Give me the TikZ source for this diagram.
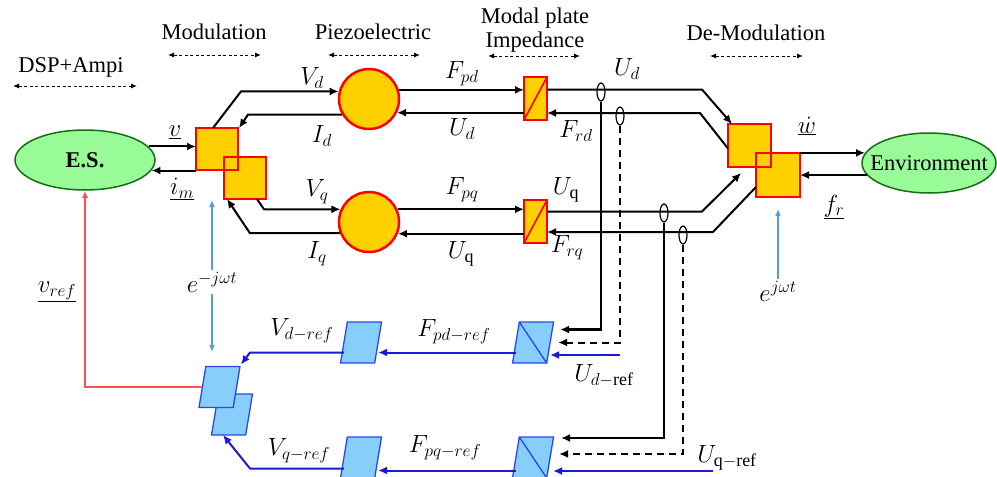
\documentclass[tikz,border=0pt]{standalone}
\usepackage{fontspec}
\setmainfont{Liberation Serif}
\renewcommand\defaultscriptratio{.78}
\renewcommand\defaultscriptscriptratio{.6}
\usetikzlibrary{arrows.meta,shapes.geometric,calc}
\definecolor{gold}{RGB}{255,208,0}
\definecolor{pgreen}{RGB}{152,251,152}
\definecolor{dgreen}{RGB}{20,110,20}
\definecolor{lblue}{RGB}{135,206,250}
\definecolor{dblue}{RGB}{25,25,215}
\definecolor{bord}{RGB}{40,70,245}
\definecolor{sblue}{RGB}{91,155,213}
\definecolor{lred}{RGB}{255,80,80}
\begin{document}
\begin{tikzpicture}[x=1pt,y=-1pt,
  font=\fontsize{22.5}{26}\selectfont,
  lbl/.style={inner sep=2pt},
  mlbl/.style={inner sep=2pt,font=\fontsize{23}{27}\selectfont},
  arr/.style={line width=2pt,-{Latex[length=9pt,width=8pt]}},
  tap/.style={line width=2.4pt,-{Latex[length=9pt,width=8pt]}},
  tapd/.style={line width=2pt,dash pattern=on 7pt off 5pt,-{Latex[length=9pt,width=8pt]}},
  barr/.style={draw=dblue,line width=2pt,-{Latex[length=9pt,width=8pt]}},
  sarr/.style={draw=sblue,line width=1.2pt,-{Latex[length=7pt,width=6pt]}},
  redarr/.style={draw=lred,line width=1.3pt,-{Latex[length=7pt,width=6pt]}},
  darr/.style={line width=1pt,dash pattern=on 3pt off 2.5pt,{Latex[length=6pt,width=5pt]}-{Latex[length=6pt,width=5pt]}},
  gell/.style={ellipse,draw=dgreen,line width=1.5pt,fill=pgreen,inner sep=0pt},
  ysq/.style={draw=red,line width=1.8pt,fill=gold,minimum size=42pt,inner sep=0pt,outer sep=0pt},
  ycirc/.style={circle,draw=red,line width=2.5pt,fill=gold,minimum size=60pt,inner sep=0pt},
  zbox/.style={draw=red,line width=1.8pt,fill=gold,minimum width=23pt,minimum height=43pt,inner sep=0pt,outer sep=0pt},
  para/.style={trapezium,trapezium left angle=76,trapezium right angle=104,trapezium stretches=true,
     minimum width=41pt,minimum height=41pt,inner sep=1pt,outer sep=0pt,draw=bord,line width=1.3pt,fill=lblue},
  oval/.style={ellipse,draw,line width=1.2pt,minimum width=8pt,minimum height=18pt,inner sep=0pt}
]
\useasboundingbox (0,0) rectangle (997,477);

% ---- top titles
\node[lbl] (tdsp) at (71,67) {DSP+Ampi};
\coordinate (dspL) at (13,86); \coordinate (dspR) at (137,86);
\draw[darr] (dspL) -- (dspR);
\node[lbl] (tmod) at (214,32) {Modulation};
\coordinate (modL) at (168,55); \coordinate (modR) at (261,55);
\draw[darr] (modL) -- (modR);
\node[lbl] (tpiezo) at (373,32) {Piezoelectric};
\coordinate (pzL) at (328,55); \coordinate (pzR) at (420,55);
\draw[darr] (pzL) -- (pzR);
\node[lbl] (tmodal) at (535,18) {Modal plate};
\node[lbl] (timp) at (535,42) {Impedance};
\coordinate (mpL) at (488,56); \coordinate (mpR) at (580,56);
\draw[darr] (mpL) -- (mpR);
\node[lbl] (tdemod) at (756,33) {De-Modulation};
\coordinate (dmL) at (710,56); \coordinate (dmR) at (803,56);
\draw[darr] (dmL) -- (dmR);

% ---- ellipses
\node[gell,minimum width=140pt,minimum height=60pt] (es) at (85,160) {};
\node[lbl] (estxt) at (es) {\textbf{E.S.}};
\node[gell,minimum width=134pt,minimum height=60pt] (env) at (929,163) {};
\node[lbl] (envtxt) at (env) {Environment};

% ---- modulation squares
\node[ysq] (m1) at (217,149) {};
\node[ysq] (m2) at (245,178) {};
\node[ysq,fill=none] (m1b) at (m1) {};
% ---- demodulation squares
\node[ysq,minimum size=43pt] (dm1) at (749.5,145.5) {};
\node[ysq,minimum size=44pt] (dm2) at (778,175) {};
\node[ysq,minimum size=43pt,fill=none] (dm1b) at (dm1) {};

% ---- piezo circles
\node[ycirc] (cd) at (369,99) {};
\node[ycirc] (cq) at (369,222) {};

% ---- modal plate boxes
\node[zbox] (zd) at (535.5,98.5) {};
\draw[red,line width=1.6pt] (zd.south west) -- (zd.north east);
\node[zbox] (zq) at (535.5,221.5) {};
\draw[red,line width=1.6pt] (zq.south west) -- (zq.north east);

% ---- blue reference boxes
\node[para] (mB) at (232,414.5) {};
\node[para] (mA) at (219.5,387) {};
\node[para] (pd) at (361,342.5) {};
\node[para] (pq) at (361,457.5) {};
\node[para] (rd) at (533,342.5) {};
\draw[bord,line width=1.3pt] (rd.top left corner) -- (rd.bottom right corner);
\node[para] (rq) at (533,457.5) {};
\draw[bord,line width=1.3pt] (rq.top left corner) -- (rq.bottom right corner);

% ---- ES <-> modulation
\draw[arr] (es.12) -- (es.12 -| m1.west);
\draw[arr] (es.-9 -| m1.west) -- (es.-9);
\node[mlbl] (lv) at (175,132) {$\underline{v}$};
\node[mlbl] (lim) at (182,189) {$\underline{i_m}$};

% ---- modulation <-> piezo
\draw[arr] ([xshift=-4pt]m1.north) -- (cd.166 -| 241,0) -- (cd.166);
\draw[arr] (cd.210) -- (cd.210 -| 248,0) -- ([xshift=1pt]m1.north east);
\draw[arr] ([xshift=12pt]m2.south) -- (cq.156 -| 264,0) -- (cq.156);
\draw[arr] (cq.201) -- (cq.201 -| 250,0) -- ([xshift=3pt]m2.south west);
\node[mlbl] (lvd) at (312,78) {$V_d$};
\node[mlbl] (lid) at (322,136) {$I_d$};
\node[mlbl] (lvq) at (317,192) {$V_q$};
\node[mlbl] (liq) at (317,254) {$I_q$};

% ---- piezo <-> modal plate
\draw[arr] (cd.17) -- (cd.17 -| zd.west);
\draw[arr] (cd.-26 -| zd.west) -- (cd.-26);
\draw[arr] (cq.24) -- (cq.24 -| zq.west);
\draw[arr] (cq.-22 -| zq.west) -- (cq.-22);
\node[mlbl] (lfpd) at (462,74) {$F_{pd}$};
\node[mlbl] (lud1) at (462,129) {$U_d$};
\node[mlbl] (lfpq) at (462,190) {$F_{pq}$};
\node[mlbl] (luq1) at (461,254) {$U_{\mathrm{q}}$};

% ---- modal plate <-> demodulation
\draw[arr] ([yshift=9pt]zd.east) -- ([yshift=9pt]zd.east -| 702,0) -- ([xshift=4pt]dm1.north west);
\draw[arr] ([yshift=-3pt]dm1.west) -- ([yshift=-14.5pt]zd.east -| 700,0) -- ([yshift=-14.5pt]zd.east);
\draw[arr] ([yshift=10pt]zq.east) -- ([yshift=10pt]zq.east -| 702,0) -- ([xshift=-15pt,yshift=-20pt]dm2.north west);
\draw[arr] ([yshift=-12pt]dm2.west) -- ([yshift=-10.5pt]zq.east -| 713,0) -- ([yshift=-10.5pt]zq.east);
\node[mlbl] (lud2) at (627,69) {$U_d$};
\node[mlbl] (lfrd) at (576,131) {$F_{rd}$};
\node[mlbl] (luq2) at (566,190) {$U_{\mathrm{q}}$};
\node[mlbl] (lfrq) at (567,248) {$F_{rq}$};

% ---- demodulation <-> environment
\draw[arr] (env.171 -| dm2.east) -- (env.171);
\draw[arr] (env.191) -- (env.191 -| dm2.east);
\node[mlbl] (lw) at (807,126) {$\underline{\dot{w}}$};
\node[mlbl] (lfr) at (834,207) {$\underline{f_r}$};

% ---- taps
\node[oval] (o1) at (601,92) {};
\node[oval] (o2) at (620,116) {};
\node[oval] (o3) at (664,213) {};
\node[oval] (o4) at (683,235) {};
\draw[tap] (o1.south) |- ([xshift=10pt,yshift=13pt]rd.east);
\draw[tapd] (o2.south) |- ([xshift=8pt]rd.east);
\draw[tap] (o3.south) |- ([xshift=11pt,yshift=19.5pt]rq.east);
\draw[tapd] (o4.south) |- ([xshift=9pt,yshift=3.5pt]rq.east);

% ---- blue reference path
\coordinate (udref) at (620,355);
\draw[barr] (udref) -- (udref -| rd.east);
\coordinate (uqref) at (713,471);
\draw[barr] (uqref) -- ([xshift=3pt]uqref -| rq.east);
\draw[barr] ([yshift=-10pt]rd.west) -- ([yshift=-10pt]rd.west -| pd.east);
\draw[barr] ([yshift=-13pt]rq.west) -- ([yshift=-13pt]rq.west -| pq.east);
\draw[barr] ([yshift=-10pt]pd.west) -- ([yshift=-10pt]pd.west -| 250,0) -- ([xshift=1pt,yshift=2pt]mA.top right corner);
\draw[barr] ([yshift=-11pt]pq.west) -- ([yshift=-11pt]pq.west -| 250,0) -- ([xshift=-9pt]mB.south);
\node[mlbl] (ludref) at (604,376) {$U_{d-\mathrm{ref}}$};
\node[mlbl] (luqref) at (727,458) {$U_{\mathrm{q}-\mathrm{ref}}$};
\node[mlbl] (lfpdref) at (454,332) {$F_{pd-ref}$};
\node[mlbl] (lfpqref) at (445,448) {$F_{pq-ref}$};
\node[mlbl] (lvdref) at (302,331) {$V_{d-ref}$};
\node[mlbl] (lvqref) at (299,451) {$V_{q-ref}$};

% ---- feedback & carriers
\draw[redarr] (mA.west) -| (es.south);
\node[mlbl] (lvref) at (57,292) {$\underline{v_{ref}}$};
\node[mlbl] (ejm) at (212,282) {$e^{-j\omega t}$};
\coordinate (ejmtop) at (212,200);
\coordinate (ejmbot) at (212,352);
\draw[sarr] (ejm.north) -- (ejmtop);
\draw[sarr] (ejm.south) -- (ejmbot);
\node[mlbl] (ejp) at (778,291) {$e^{j\omega t}$};
\draw[sarr] (ejp.north) -- ([yshift=-12pt]dm2.south);
\end{tikzpicture}
\end{document}
